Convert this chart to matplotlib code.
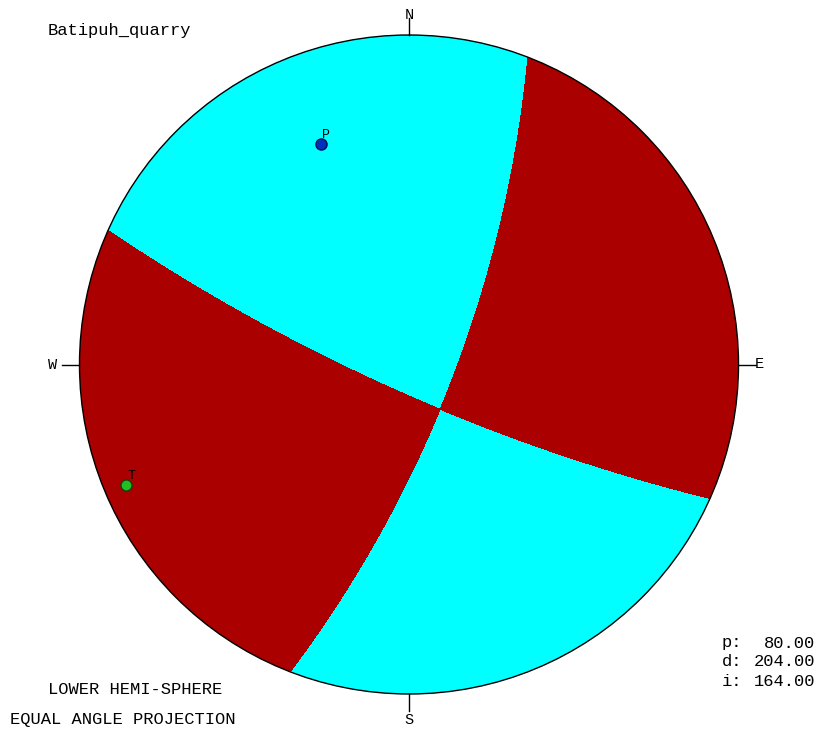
import numpy as np
import matplotlib
matplotlib.use("Agg")
import matplotlib.pyplot as plt
from matplotlib.patches import Circle

# fault plane parameters as printed on the plot
site_name = "Batipuh_quarry"
dip = 80.0          # p
dip_dir = 204.0     # d
rake = 164.0        # i  (program's sign convention: slip = -rake in Aki-Richards)
param_labels = ["p:", "d:", "i:"]
param_values = [dip, dip_dir, rake]
compass_labels = ["N", "E", "S", "W"]
compass_az = [0, 90, 180, 270]

RED = "#aa0000"
CYAN = "#00ffff"
FONT = "Liberation Mono"


def stereo_xy(v):
    # v in (N, E, Down); lower hemisphere, equal angle
    if v[2] < 0:
        v = -v
    pl = np.arcsin(np.clip(v[2], -1, 1))
    tr = np.arctan2(v[1], v[0])
    r = np.tan((np.pi / 2 - pl) / 2)
    return r * np.sin(tr), r * np.cos(tr)


# P and T axes from plane + slip
phi = np.radians(dip_dir - 90)
delta = np.radians(dip)
lam = np.radians(-rake)
s_vec = np.array([np.cos(phi), np.sin(phi), 0.0])
d_vec = np.array([np.cos(delta) * np.cos(phi + np.pi / 2),
                  np.cos(delta) * np.sin(phi + np.pi / 2), np.sin(delta)])
slip = np.cos(lam) * s_vec - np.sin(lam) * d_vec
normal = np.array([-np.sin(delta) * np.sin(phi), np.sin(delta) * np.cos(phi), -np.cos(delta)])
T_ax = (normal + slip) / np.sqrt(2)
P_ax = (normal - slip) / np.sqrt(2)

# figure in pixel-matched layout: 817x729, circle centre (409, 364.5), radius 329.5
W, H = 817, 729
cx, cy, R = 409.0, 364.5, 329.5
fig = plt.figure(figsize=(W / 100, H / 100), dpi=100)
ax = fig.add_axes([0, 0, 1, 1])
ax.set_xlim(-cx / R, (W - cx) / R)
ax.set_ylim(-(H - cy) / R, cy / R)
ax.axis("off")

# quadrant field on a grid
n = 1200
g = np.linspace(-1.0, 1.0, n)
X, Y = np.meshgrid(g, g)
r = np.hypot(X, Y)
pl = np.pi / 2 - 2 * np.arctan(r)
tr = np.arctan2(X, Y)
vx = np.cos(pl) * np.cos(tr)
vy = np.cos(pl) * np.sin(tr)
vz = np.sin(pl)
field = (vx * T_ax[0] + vy * T_ax[1] + vz * T_ax[2]) ** 2 - \
        (vx * P_ax[0] + vy * P_ax[1] + vz * P_ax[2]) ** 2

cs = ax.contourf(X, Y, field, levels=[-10, 0, 10], colors=[CYAN, RED], antialiased=False)
clip = Circle((0, 0), 1.0, transform=ax.transData, fill=False)
cs.set_clip_path(clip)

ax.add_patch(Circle((0, 0), 1.0, fill=False, edgecolor="black", lw=1.0, zorder=3))

# compass ticks and labels
label_r = {"N": 1.062, "E": 1.064, "S": 1.079, "W": 1.081}
for lab, az in zip(compass_labels, compass_az):
    a = np.radians(az)
    ax.plot([np.sin(a), 1.052 * np.sin(a)], [np.cos(a), 1.052 * np.cos(a)],
            color="black", lw=1.0, zorder=3)
    ax.text(label_r[lab] * np.sin(a), label_r[lab] * np.cos(a), lab,
            ha="center", va="center", fontsize=11, family=FONT)

# P and T axes
px, py = stereo_xy(P_ax)
tx, ty = stereo_xy(T_ax)
ax.plot(px, py, "o", ms=8, mfc="#0030c0", mec="#001050", mew=1.0, zorder=4)
ax.plot(tx, ty, "o", ms=8, mfc="#20c020", mec="#104010", mew=1.0, zorder=4)
ax.text(px + 0.004, py + 0.008, "P", fontsize=9.5, family=FONT,
        ha="left", va="bottom", zorder=5)
ax.text(tx + 0.004, ty + 0.008, "T", fontsize=9.5, family=FONT,
        ha="left", va="bottom", zorder=5)

# text annotations
fs = 12.3
ax.text((48 - cx) / R, (cy - 30) / R, site_name, fontsize=fs,
        family=FONT, ha="left", va="center")
ax.text((48 - cx) / R, (cy - 689) / R, "LOWER HEMI-SPHERE", fontsize=fs,
        family=FONT, ha="left", va="center")
ax.text((10 - cx) / R, (cy - 720) / R, "EQUAL ANGLE PROJECTION", fontsize=fs,
        family=FONT, ha="left", va="center")
for k, (lab, val) in enumerate(zip(param_labels, param_values)):
    yy = (cy - (643 + 19 * k)) / R
    ax.text((722 - cx) / R, yy, lab, fontsize=fs, family=FONT,
            ha="left", va="center")
    ax.text((815 - cx) / R, yy, f"{val:.2f}", fontsize=fs, family=FONT,
            ha="right", va="center")

fig.savefig("out.png", dpi=100, facecolor="white")
